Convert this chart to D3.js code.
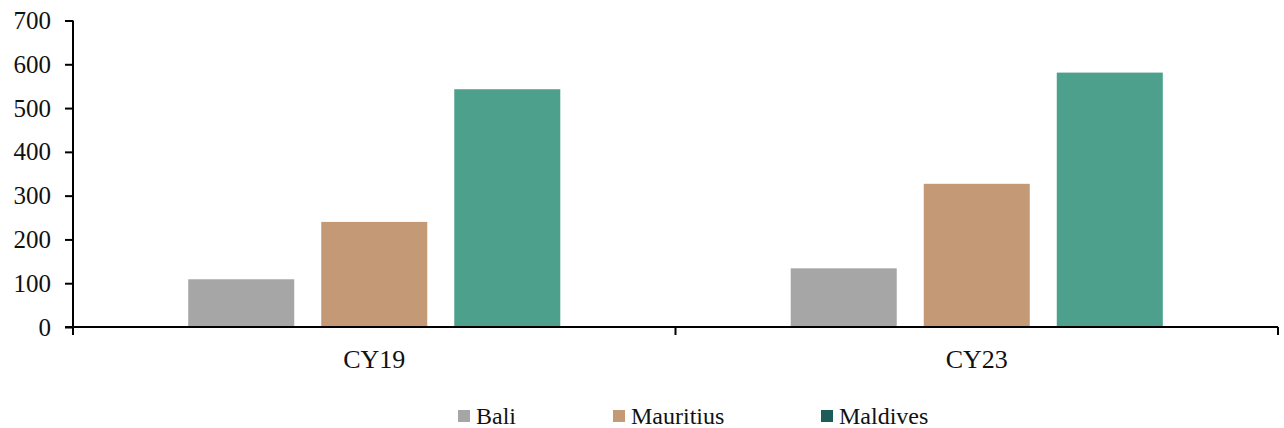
<html>
<head>
  <meta charset="utf8">
  <style>
  * { margin: 0; padding: 0; }
  body { background: #fff; }
  text { font-family: "Liberation Serif", "Times New Roman", serif; }
  </style>
</head>
<body>
  <script src="https://cdn.jsdelivr.net/npm/d3@7"></script>
  <script>
  // data
  var categories = ["CY19", "CY23"];
  var seriesNames = ["Bali", "Mauritius", "Maldives"];
  var bali = [109, 134];
  var mauritius = [240, 327];
  var maldives = [543, 581];
  var yTicks = [0, 100, 200, 300, 400, 500, 600, 700];

  var barColors = ["#a6a6a6", "#c49a76", "#4ca08c"];
  var legendColors = ["#a6a6a6", "#c49a76", "#1c5e57"];

  var w = 1284, h = 428;
  var plotLeft = 73, plotRight = 1278, plotTop = 20.5, plotBottom = 327;

  var svg = d3.select("body").append("svg")
    .attr("width", w)
    .attr("height", h);

  var x0 = d3.scaleBand()
    .domain(categories)
    .range([plotLeft, plotRight])
    .padding(0);

  var x1 = d3.scaleBand()
    .domain(seriesNames)
    .range([0, x0.bandwidth()])
    .paddingInner(0.203)
    .paddingOuter(0.866);

  var y = d3.scaleLinear()
    .domain([0, 700])
    .range([plotBottom, plotTop]);

  var rows = categories.map(function(c, i) {
    return { cat: c, vals: [bali[i], mauritius[i], maldives[i]] };
  });

  // bars
  var groups = svg.selectAll("g.grp")
    .data(rows)
    .enter()
    .append("g")
    .attr("class", "grp")
    .attr("transform", function(d) { return "translate(" + x0(d.cat) + ",0)"; });

  groups.selectAll("rect")
    .data(function(d) {
      return d.vals.map(function(v, j) { return { name: seriesNames[j], v: v, j: j }; });
    })
    .enter()
    .append("rect")
    .attr("x", function(d) { return x1(d.name); })
    .attr("width", x1.bandwidth())
    .attr("y", function(d) { return y(d.v); })
    .attr("height", function(d) { return plotBottom - y(d.v); })
    .attr("fill", function(d) { return barColors[d.j]; });

  // y axis
  var yAxis = d3.axisLeft(y)
    .tickValues(yTicks)
    .tickSize(8)
    .tickPadding(14)
    .tickFormat(d3.format("d"));

  var gy = svg.append("g")
    .attr("transform", "translate(" + plotLeft + ",0)")
    .call(yAxis);
  gy.select(".domain").attr("stroke", "#000").attr("stroke-width", 2)
    .attr("d", "M0," + plotTop + "V" + plotBottom);
  gy.selectAll(".tick line").attr("stroke", "#000").attr("stroke-width", 2);
  gy.selectAll(".tick text")
    .attr("font-size", 25)
    .attr("fill", "#111")
    .style("font-family", "'Liberation Serif', serif");

  // x axis
  var gx = svg.append("g")
    .attr("transform", "translate(0," + plotBottom + ")");
  gx.append("line")
    .attr("x1", plotLeft - 8).attr("x2", plotRight)
    .attr("stroke", "#000").attr("stroke-width", 2);
  var sep = [plotLeft].concat(categories.map(function(c) { return x0(c) + x0.bandwidth(); }));
  gx.selectAll("line.sep")
    .data(sep)
    .enter()
    .append("line")
    .attr("class", "sep")
    .attr("x1", function(d) { return d; })
    .attr("x2", function(d) { return d; })
    .attr("y1", 0).attr("y2", 8)
    .attr("stroke", "#000").attr("stroke-width", 2);
  gx.selectAll("text")
    .data(categories)
    .enter()
    .append("text")
    .attr("x", function(d) { return x0(d) + x0.bandwidth() / 2; })
    .attr("y", 41)
    .attr("text-anchor", "middle")
    .attr("font-size", 26)
    .attr("fill", "#111")
    .text(function(d) { return d; });

  // legend
  var legendX = [458, 613, 821];
  var lg = svg.selectAll("g.leg")
    .data(seriesNames)
    .enter()
    .append("g")
    .attr("class", "leg")
    .attr("transform", function(d, i) { return "translate(" + legendX[i] + ",410)"; });
  lg.append("rect")
    .attr("width", 12).attr("height", 12)
    .attr("fill", function(d, i) { return legendColors[i]; });
  lg.append("text")
    .attr("x", 18)
    .attr("y", 14)
    .attr("font-size", 24)
    .attr("fill", "#111")
    .text(function(d) { return d; });
  </script>
</body>
</html>
